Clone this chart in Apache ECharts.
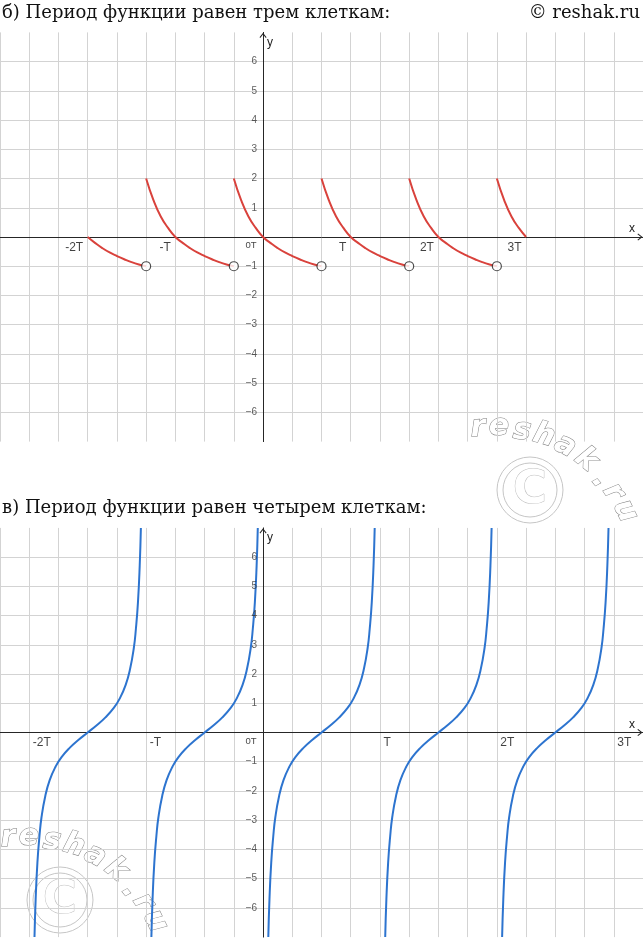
<!DOCTYPE html>
<html>
<head>
<meta charset="utf-8">
<script src="https://cdn.jsdelivr.net/npm/echarts@6.0.0/dist/echarts.min.js"></script>
<style>
html,body{margin:0;padding:0;background:#ffffff;}
#chart{width:643px;height:938px;}
</style>
</head>
<body>
<div id="chart"></div>
<script>
// ---------------- data ----------------
const titleTop = 'б) Период функции равен трем клеткам:';
const titleBottom = 'в) Период функции равен четырем клеткам:';
const copyrightText = '© reshak.ru';

const xRange = [-9, 13];
const yRange = [-7, 7];
const yTickValues = [-6, -5, -4, -3, -2, -1, 1, 2, 3, 4, 5, 6];

// chart б: one period of the curve, x measured from its zero crossing
const topShapeDx = [-1, -0.75, -0.5, -0.25, 0, 0.25, 0.5, 0.75, 1, 1.25, 1.5, 1.75, 2];
const topShapeY  = [2, 1.26, 0.7, 0.31, 0, -0.2, -0.38, -0.53, -0.65, -0.76, -0.86, -0.94, -1];
const topZeroX   = [-6, -3, 0, 3, 6, 9];
const topSegFrom = [-6, -4, -1, 2, 5, 8];
const topSegTo   = [-4, -1, 2, 5, 8, 9];
const topHoleX   = [-4, -1, 2, 5, 8];
const topHoleY   = [-1, -1, -1, -1, -1];
const topTickX   = [-6, -3, 0, 3, 6, 9];
const topTickText = ['-2T', '-T', '0T', 'T', '2T', '3T'];

// chart в: one branch of the curve, x measured from its zero crossing
const bottomShapeDx = [-1.82, -1.78, -1.72, -1.65, -1.58, -1.45, -1.3, -1.1, -0.9, -0.6, -0.3, 0, 0.3, 0.6, 0.9, 1.1, 1.3, 1.45, 1.58, 1.65, 1.72, 1.78, 1.82];
const bottomShapeY  = [-7, -5.7, -4.45, -3.55, -2.9, -2.17, -1.63, -1.17, -0.85, -0.51, -0.24, 0, 0.24, 0.51, 0.85, 1.17, 1.63, 2.17, 2.9, 3.55, 4.45, 5.7, 7];
const bottomZeroX = [-6, -2, 2, 6, 10];
const bottomTickX = [-8, -4, 0, 4, 8, 12];
const bottomTickText = ['-2T', '-T', '0T', 'T', '2T', '3T'];

// ---------------- styling ----------------
const RED = '#d9423c', BLUE = '#2d74cf', GRIDC = '#d3d3d3', AXISC = '#262626';
const FONT = '"Liberation Sans", Arial, sans-serif';
const SERIF = '"DejaVu Serif", serif';
const ARROW = 'path://M5,0L10,6.4L9,7.4L5,2.3L1,7.4L0,6.4Z';

function buildSegments(zeros, from, to, dxs, ys) {
  return zeros.map((z, i) => {
    const pts = [];
    dxs.forEach((d, j) => {
      const x = z + d;
      if (x >= from[i] - 1e-9 && x <= to[i] + 1e-9) pts.push([x, ys[j]]);
    });
    return pts;
  });
}

const topSegs = buildSegments(topZeroX, topSegFrom, topSegTo, topShapeDx, topShapeY);
const bottomSegs = buildSegments(bottomZeroX,
  bottomZeroX.map(z => z - 2), bottomZeroX.map(z => z + 2), bottomShapeDx, bottomShapeY);

function xAxisFor(i) {
  return {
    gridIndex: i, type: 'value', min: xRange[0], max: xRange[1], interval: 1,
    axisLine: { show: true, onZero: true, lineStyle: { color: AXISC, width: 1 },
      symbol: ['none', ARROW], symbolSize: [7, 6], symbolOffset: [0, -3] },
    axisTick: { show: false }, axisLabel: { show: false },
    splitLine: { show: true, lineStyle: { color: GRIDC, width: 1 } },
    name: 'x', nameLocation: 'end', nameGap: -14,
    nameTextStyle: { color: '#222', fontSize: 12, fontFamily: FONT, align: 'left', verticalAlign: 'bottom', padding: [0, 0, 2, 0] }
  };
}
function yAxisFor(i) {
  return {
    gridIndex: i, type: 'value', min: yRange[0], max: yRange[1], interval: 1,
    axisLine: { show: true, onZero: true, lineStyle: { color: AXISC, width: 1 },
      symbol: ['none', ARROW], symbolSize: [7, 6], symbolOffset: [0, -3] },
    axisTick: { show: false },
    axisLabel: { show: false },
    splitLine: { show: true, showMinLine: false, showMaxLine: false, lineStyle: { color: GRIDC, width: 1 } },
    name: 'y', nameLocation: 'end', nameGap: -4,
    nameTextStyle: { color: '#222', fontSize: 12, fontFamily: FONT, align: 'left', verticalAlign: 'top', padding: [0, 0, 0, 4] }
  };
}

function tickSeries(i, xs, texts, side) {
  return {
    type: 'scatter', xAxisIndex: i, yAxisIndex: i, symbolSize: 1, silent: true, z: 4,
    itemStyle: { color: 'rgba(0,0,0,0)' },
    data: xs.map((x, k) => {
      const item = { value: [x, 0], name: texts[k] };
      if (texts[k] === '0T') item.label = { fontSize: 9.5, position: [-6, 4], align: 'right' };
      return item;
    }),
    label: { show: true, formatter: '{b}', fontSize: 12, color: '#111', fontFamily: FONT,
      position: side === 'right' ? [-4, 5] : [4, 5], align: side, verticalAlign: 'top' }
  };
}

function yLabelSeries(i) {
  return {
    type: 'scatter', xAxisIndex: i, yAxisIndex: i, symbolSize: 1, silent: true, z: 4,
    itemStyle: { color: 'rgba(0,0,0,0)' },
    data: yTickValues.map(v => ({ value: [0, v], name: v < 0 ? '\u2212' + (-v) : String(v) })),
    label: { show: true, formatter: '{b}', fontSize: 10, color: '#333', fontFamily: FONT,
      position: [-5.5, 0.5], align: 'right', verticalAlign: 'middle' }
  };
}

function lineSeries(i, pts, color) {
  return { type: 'line', xAxisIndex: i, yAxisIndex: i, data: pts, showSymbol: false,
    smooth: 0.5, silent: true, z: 3,
    lineStyle: { color: color, width: 2 } };
}

function watermark(cx, cy) {
  const letters = 'reshak.ru'.split('');
  const dx = [-52, -31, -8, 14, 35, 56, 71, 83, 95];
  const dy = [-62, -63, -59, -54, -44, -30, -10, 2, 21];
  const rot = [0.05, 0, -0.12, -0.28, -0.48, -0.68, -0.88, -0.98, -1.12];
  const children = [
    { type: 'circle', shape: { cx: 0, cy: 0, r: 33 }, style: { fill: 'none', stroke: '#c6c6c6', lineWidth: 1 } },
    { type: 'circle', shape: { cx: 0, cy: 0, r: 27 }, style: { fill: 'none', stroke: '#c6c6c6', lineWidth: 1 } },
    { type: 'text', x: 0, y: 1, style: { text: 'C', font: 'bold 46px "DejaVu Sans"', fill: '#ffffff', stroke: '#bdbdbd', lineWidth: 1, align: 'center', verticalAlign: 'middle' } }
  ];
  letters.forEach((ch, k) => children.push({
    type: 'text', x: dx[k], y: dy[k], rotation: rot[k],
    style: { text: ch, font: 'bold oblique 30px "DejaVu Sans"', fill: '#ffffff', stroke: '#7e7e7e', lineWidth: 1, align: 'center', verticalAlign: 'middle' }
  }));
  return { type: 'group', x: cx, y: cy, z: 1, silent: true, children };
}

const series = [];
topSegs.forEach(p => series.push(lineSeries(0, p, RED)));
series.push({ type: 'scatter', xAxisIndex: 0, yAxisIndex: 0, silent: true, z: 5, symbol: 'circle', symbolSize: 9,
  itemStyle: { color: '#ffffff', borderColor: '#222', borderWidth: 1.2 },
  data: topHoleX.map((x, k) => [x, topHoleY[k]]) });
series.push(tickSeries(0, topTickX, topTickText, 'right'));
series.push(yLabelSeries(0));
bottomSegs.forEach(p => series.push(lineSeries(1, p, BLUE)));
series.push(tickSeries(1, bottomTickX, bottomTickText, 'left'));
series.push(yLabelSeries(1));

const titleStyle = { fontFamily: SERIF, fontSize: 18, fontWeight: 'normal', color: '#111' };

const option = {
  animation: false,
  backgroundColor: '#ffffff',
  title: [
    { text: titleTop, left: 2, top: 4, padding: 0, textStyle: titleStyle },
    { text: copyrightText, right: 3, top: 4, padding: 0, textStyle: titleStyle },
    { text: titleBottom, left: 2, top: 499, padding: 0, textStyle: titleStyle }
  ],
  grid: [
    { left: 0, right: 0, top: 32.4, height: 409.2, containLabel: false, outerBoundsMode: 'none' },
    { left: 0, right: 0, top: 527.9, height: 409.2, containLabel: false, outerBoundsMode: 'none' }
  ],
  xAxis: [xAxisFor(0), xAxisFor(1)],
  yAxis: [yAxisFor(0), yAxisFor(1)],
  graphic: [watermark(530, 490), watermark(60, 900)],
  series: series
};

const chart = echarts.init(document.getElementById('chart'), null, { renderer: 'canvas' });
chart.setOption(option);
</script>
</body>
</html>
